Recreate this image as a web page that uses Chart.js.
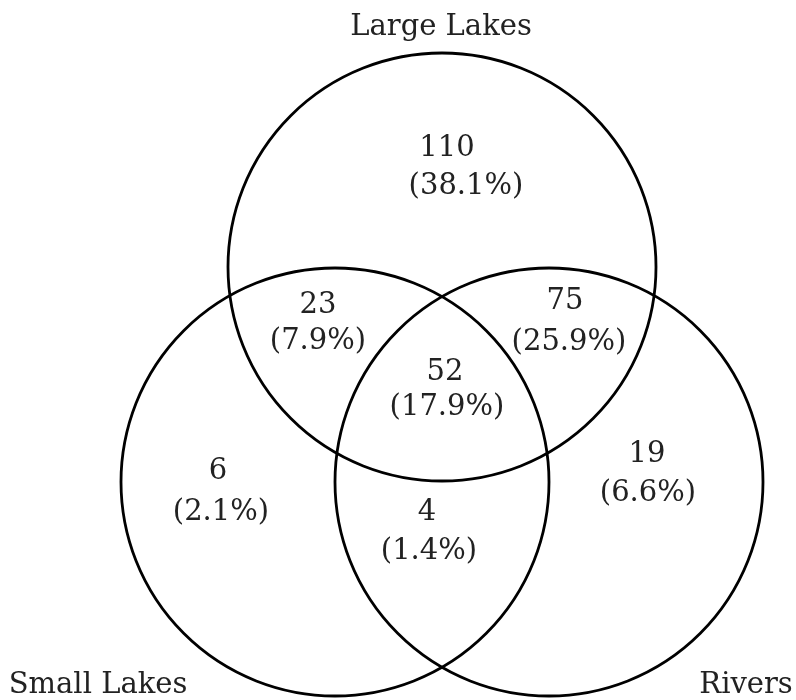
<!DOCTYPE html>
<html>
<head>
<meta charset="utf-8">
<script src="https://cdn.jsdelivr.net/npm/chart.js@4/dist/chart.umd.min.js"></script>
<style>
  body { margin: 0; background: #fff; }
  canvas { display: block; }
</style>
</head>
<body>
<canvas id="chartVenn" width="796" height="700"></canvas>
<script>
// sets (circles), in diagram units
var setNames = ['Large Lakes', 'Small Lakes', 'Rivers'];
var setX = [442, 335, 549];
var setY = [267, 482, 482];
var setR = [214, 214, 214];

// set name labels
var nameX = [441, 98, 746];
var nameY = [27, 685, 685];

// regions: counts and share of total
var regionCounts = ['110', '23', '75', '52', '6', '4', '19'];
var regionShares = ['(38.1%)', '(7.9%)', '(25.9%)', '(17.9%)', '(2.1%)', '(1.4%)', '(6.6%)'];
var countX = [447, 318, 565, 445, 218, 427, 647];
var countY = [148, 305, 301, 372, 471, 512, 454];
var shareX = [466, 318, 569, 447, 221, 429, 648];
var shareY = [186, 341, 342, 407, 512, 551, 493];

var textFont = '29px "DejaVu Serif", "Liberation Serif", serif';

var vennLabels = {
    id: 'vennLabels',
    afterDatasetsDraw: function (chart) {
        var ctx = chart.ctx;
        var xs = chart.scales.x;
        var ys = chart.scales.y;
        ctx.save();
        ctx.font = textFont;
        ctx.fillStyle = '#222';
        ctx.textAlign = 'center';
        ctx.textBaseline = 'middle';
        for (var i = 0; i < setNames.length; i++) {
            ctx.fillText(setNames[i], xs.getPixelForValue(nameX[i]), ys.getPixelForValue(nameY[i]));
        }
        for (var j = 0; j < regionCounts.length; j++) {
            ctx.fillText(regionCounts[j], xs.getPixelForValue(countX[j]), ys.getPixelForValue(countY[j]));
            ctx.fillText(regionShares[j], xs.getPixelForValue(shareX[j]), ys.getPixelForValue(shareY[j]));
        }
        ctx.restore();
    }
};

var ctx_venn = document.getElementById('chartVenn').getContext('2d');
var data_venn = {
    datasets: setNames.map(function (name, i) {
        return {
            label: name,
            data: [{ x: setX[i], y: setY[i], r: setR[i] }],
            backgroundColor: 'rgba(0, 0, 0, 0)',
            borderColor: '#000',
            borderWidth: 2.8,
            hoverRadius: 0,
            clip: false
        };
    })
};

new Chart(ctx_venn, {
    type: 'bubble',
    data: data_venn,
    options: {
        responsive: false,
        animation: false,
        layout: { padding: 0, autoPadding: false },
        plugins: {
            legend: { display: false },
            tooltip: { enabled: false }
        },
        scales: {
            x: { type: 'linear', min: 0, max: 796, display: false },
            y: { type: 'linear', min: 0, max: 700, reverse: true, display: false }
        }
    },
    plugins: [vennLabels]
});
</script>
</body>
</html>
